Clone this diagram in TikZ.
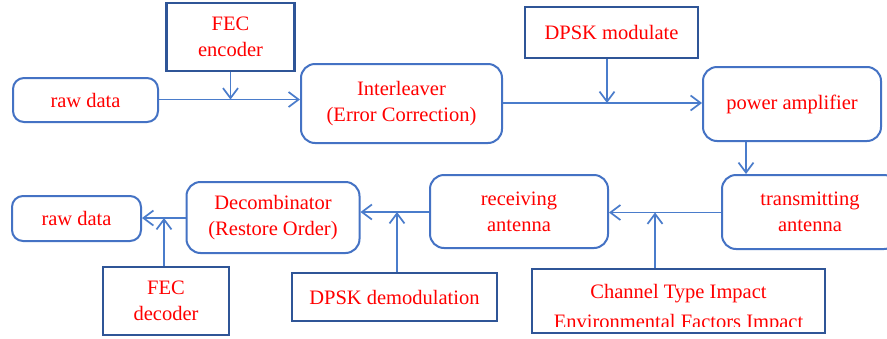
\documentclass[tikz,border=0pt]{standalone}
\usepackage{fontspec}
\setmainfont{Liberation Serif}
\usetikzlibrary{arrows.meta,calc}
\definecolor{boxblue}{HTML}{4472C4}
\definecolor{rectblue}{HTML}{2F5597}
\definecolor{lineblue}{HTML}{4A7CCB}
\definecolor{txtred}{HTML}{FF0000}
\begin{document}
\begin{tikzpicture}[x=1pt,y=-1pt,
  every node/.style={font=\fontsize{20.5}{26}\selectfont, text=txtred, align=center, inner sep=0pt},
  rbox/.style={draw=boxblue, line width=2pt, rounded corners=11pt},
  sbox/.style={draw=rectblue, line width=2.2pt},
  conn/.style={draw=lineblue, line width=1.7pt, -{Straight Barb[length=10pt,width=15pt,line width=1.7pt]}}]
\useasboundingbox[fill=white] (0,0) rectangle (887,338);

% top row
\node[rbox, minimum width=145pt, minimum height=44pt] (rawtop) at (85.5,100) {raw data};
\node[sbox, minimum width=128pt, minimum height=68pt] (fecenc) at (230.5,36.7) {FEC\\encoder};
\node[rbox, rounded corners=14pt, minimum width=201pt, minimum height=79pt] (inter) at (401.5,103.5) {Interleaver\\(Error Correction)};
\node[sbox, minimum width=173pt, minimum height=51pt] (dpskmod) at (611.5,32.5) {DPSK modulate};
\node[rbox, rounded corners=14pt, minimum width=178pt, minimum height=74pt] (power) at (792,104) {power amplifier};

% bottom row
\node[rbox, rounded corners=14pt, minimum width=176pt, minimum height=74pt] (trans) at (810,212) {transmitting\\antenna};
\node[rbox, rounded corners=14pt, minimum width=178pt, minimum height=73pt] (recv) at (519,211.5) {receiving\\antenna};
\node[rbox, rounded corners=14pt, minimum width=173pt, minimum height=71pt] (decomb) at (273,217.5) {Decombinator\\(Restore Order)};
\node[rbox, minimum width=129pt, minimum height=45pt] (rawbot) at (76.5,218.5) {raw data};
\node[sbox, minimum width=126pt, minimum height=68pt] (fecdec) at (166,301) {FEC\\decoder};
\node[sbox, minimum width=205pt, minimum height=48pt] (demod) at (394.5,297) {DPSK demodulation};
\node[sbox, minimum width=293pt, minimum height=64pt] (chan) at (678.5,301) {};
\begin{scope}
  \clip (532,270) rectangle (825,326.5);
  \node[anchor=base] (chant1) at (678.5,298.5) {Channel Type Impact};
  \node[anchor=base] (chant2) at (678.5,328.5) {Environmental Factors Impact};
\end{scope}

% connectors, top row
\coordinate (j1) at (fecenc.south |- 0,99.5);
\draw[conn] (rawtop.east |- j1) -- (inter.west |- j1);
\draw[conn] (fecenc.south) -- (j1);
\coordinate (j2) at ($(dpskmod.south)+(-4.5,0)$);
\coordinate (j2b) at (j2 |- 0,103);
\draw[conn] (inter.east |- j2b) -- (power.west |- j2b);
\draw[conn] (j2) -- (j2b);
\coordinate (j3) at (746,0);
\draw[conn] (j3 |- power.south) -- (j3 |- trans.north);

% connectors, bottom row
\coordinate (j4) at (655,212.5);
\draw[conn] (trans.west |- j4) -- (recv.east |- j4);
\draw[conn] (j4 |- chan.north) -- (j4);
\coordinate (j5) at (397,212);
\draw[conn] (recv.west |- j5) -- (decomb.east |- j5);
\draw[conn] (j5 |- demod.north) -- (j5);
\coordinate (j6) at (164,218);
\draw[conn] (decomb.west |- j6) -- (rawbot.east |- j6);
\draw[conn] (j6 |- fecdec.north) -- (j6);
\end{tikzpicture}
\end{document}
